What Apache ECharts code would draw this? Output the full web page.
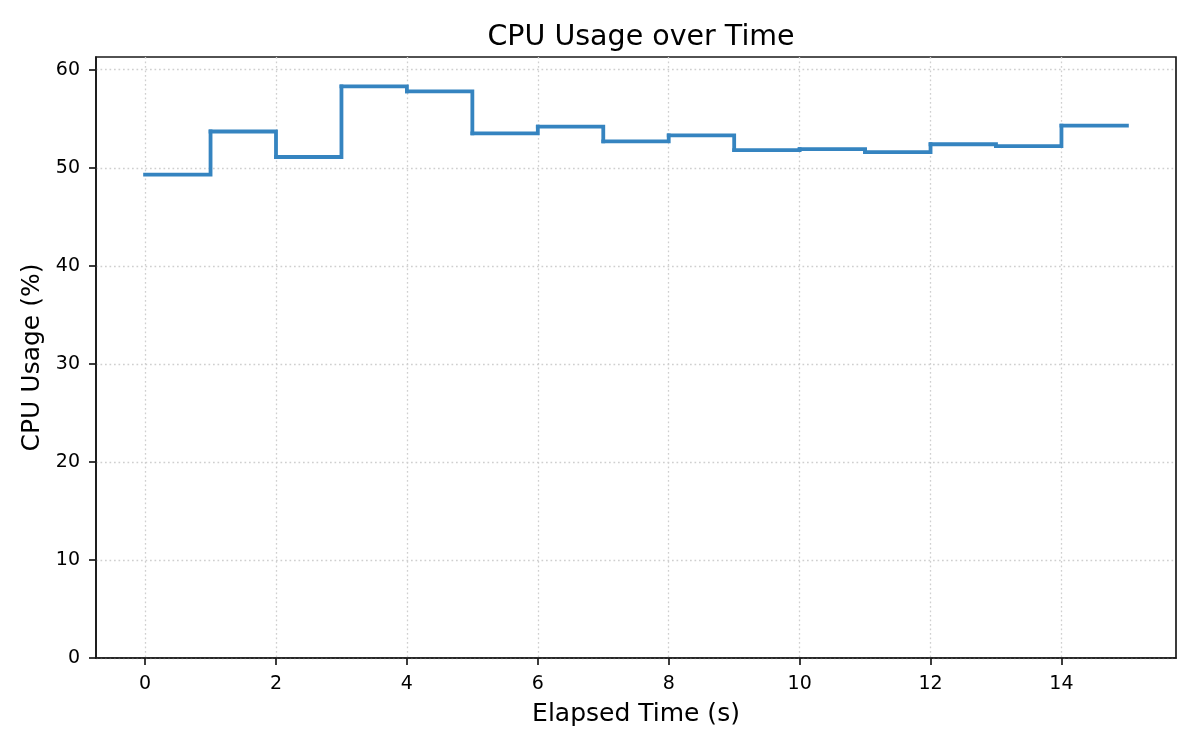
<!DOCTYPE html>
<html>
<head>
<meta charset="utf-8">
<script src="https://cdn.jsdelivr.net/npm/echarts@6/dist/echarts.min.js"></script>
<style>
  html, body { margin: 0; padding: 0; background: #fff; }
  #chart { width: 1200px; height: 750px; }
</style>
</head>
<body>
<div id="chart"></div>
<script>
// elapsed seconds and cpu usage
const times = [0, 1, 2, 3, 4, 5, 6, 7, 8, 9, 10, 11, 12, 13, 14, 15]
const cpu = [49.3, 53.7, 51.1, 58.3, 57.8, 53.5, 54.2, 52.7, 53.3, 51.8, 51.9, 51.6, 52.4, 52.2, 54.3, 54.3]
const xTicks = [0, 2, 4, 6, 8, 10, 12, 14]
const yTicks = [0, 10, 20, 30, 40, 50, 60]

const font = 'DejaVu Sans'
const lineColor = '#3584c0'
const chart = echarts.init(document.getElementById('chart'))

// one step per sample: [t, value, next t, next value]
const steps = times.slice(0, -1).map((t, i) => [t, cpu[i], times[i + 1], cpu[i + 1]])

const axisCommon = {
  nameLocation: 'middle',
  nameTextStyle: { fontFamily: font, fontSize: 25, color: '#000' },
  axisLine: { show: true, onZero: false, lineStyle: { color: '#1a1a1a', width: 1.7 } },
  splitLine: { show: true, lineStyle: { color: '#cfcfcf', width: 1.3, type: [1.7, 2.8] } }
}

const option = {
  animation: false,
  title: {
    text: 'CPU Usage over Time',
    left: 636, top: 18, textAlign: 'center',
    textStyle: { fontFamily: font, fontSize: 28.5, fontWeight: 'normal', color: '#000' }
  },
  grid: {
    left: 96, right: 24, top: 57, bottom: 92,
    show: true, borderColor: '#1a1a1a', borderWidth: 1.7, backgroundColor: '#fff'
  },
  xAxis: Object.assign({}, axisCommon, {
    type: 'value', min: -0.75, max: 15.75,
    name: 'Elapsed Time (s)', nameGap: 44,
    axisTick: { show: true, customValues: xTicks, length: 7, lineStyle: { color: '#1a1a1a', width: 1.7 } },
    axisLabel: { customValues: xTicks, fontFamily: font, fontSize: 19, color: '#000', margin: 17 }
  }),
  yAxis: Object.assign({}, axisCommon, {
    type: 'value', min: 0, max: 61.3,
    name: 'CPU Usage (%)', nameGap: 49,
    axisTick: { show: true, customValues: yTicks, length: 7, lineStyle: { color: '#1a1a1a', width: 1.7 } },
    axisLabel: { customValues: yTicks, fontFamily: font, fontSize: 19, color: '#000', margin: 16 }
  }),
  series: [{
    type: 'custom',
    data: steps,
    encode: { x: [0, 2], y: [1, 3] },
    renderItem: (params, api) => {
      const a = api.coord([api.value(0), api.value(1)])
      const b = api.coord([api.value(2), api.value(1)])
      const c = api.coord([api.value(2), api.value(3)])
      return {
        type: 'polyline',
        shape: { points: [a, b, c] },
        style: { stroke: lineColor, lineWidth: 3.8, fill: null, lineCap: 'square', lineJoin: 'miter' }
      }
    },
    z: 3
  }]
}

chart.setOption(option)
</script>
</body>
</html>
